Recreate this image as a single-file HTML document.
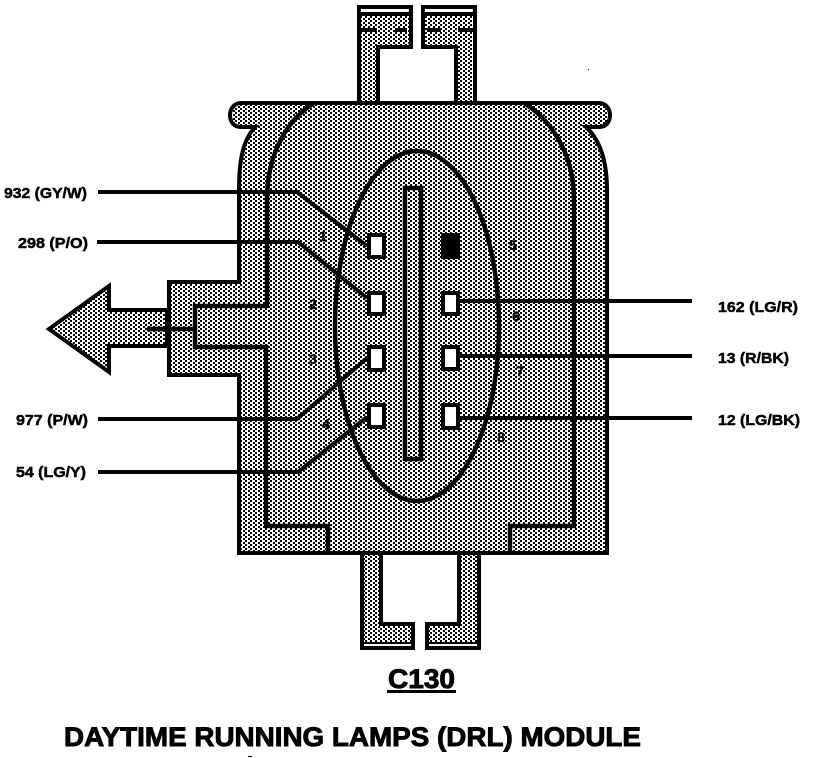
<!DOCTYPE html>
<html><head><meta charset="utf-8"><title>DRL Module C130</title>
<style>html,body{margin:0;padding:0;background:#fff}svg{display:block}
text{font-family:"Liberation Sans",sans-serif;font-weight:bold;fill:#000;stroke:#000;stroke-width:.5}</style></head>
<body>
<svg width="816" height="758" viewBox="0 0 816 758" xmlns="http://www.w3.org/2000/svg">
<defs><pattern id="h" width="5" height="4" patternUnits="userSpaceOnUse">
<rect width="5" height="4" fill="#fff"/>
<rect x="0" y="0" width="2" height="2" fill="#000" shape-rendering="crispEdges"/>
<rect x="3" y="2" width="2" height="2" fill="#000" shape-rendering="crispEdges"/>
</pattern></defs>
<g fill="url(#h)" stroke="#000" stroke-width="4" stroke-linejoin="miter">
<!-- top tabs -->
<path d="M359 103V7H411V47H378V103Z"/>
<path d="M475 103V7H423V47H456V103Z"/>
<!-- bottom tabs -->
<path d="M362 553V648H413V624H381V553Z"/>
<path d="M479 553V648H427V624H459V553Z"/>
<!-- flange + body -->
<path d="M241 103H599C606 103 610 109 610 115C610 122 606 127 599 127H586C600 140 607 160 607 190V553H239V375H169V282H239V190C239 160 243 140 255 127H241C234 127 230 122 230 115C230 109 234 103 241 103Z"/>
<!-- arrow -->
<path d="M49 329L109 286V310H167V346H109V372Z"/>
</g>
<g fill="none" stroke="#000" stroke-width="4.5">
<path d="M314 103C290 118 267 150 267 200V306H195V347H266V526H328V553"/>
<path d="M524 103C548 118 574 150 574 200V526H510V553"/>
<ellipse cx="417" cy="326" rx="82" ry="175"/>
<rect x="405" y="188" width="16" height="271"/>
<path d="M147 329H195"/>
</g>
<g fill="none" stroke="#000" stroke-width="4">
<path d="M98 192H297L367 246"/>
<path d="M97 242H298L367 298"/>
<path d="M98 419H297L367 358"/>
<path d="M98 472H298L367 417"/>
<path d="M460 301H692"/>
<path d="M460 356H692"/>
<path d="M460 418H692"/>
</g>
<!-- dashes/stripes on tabs -->
<g shape-rendering="crispEdges">
<rect x="361" y="9" width="48" height="3.5" fill="#fff"/><rect x="361" y="12" width="48" height="4" fill="#000"/>
<rect x="425" y="9" width="48" height="3.5" fill="#fff"/><rect x="425" y="12" width="48" height="4" fill="#000"/>
<rect x="361" y="28" width="16" height="4" fill="#000"/><rect x="395" y="28" width="12" height="4" fill="#000"/>
<rect x="427" y="28" width="14" height="4" fill="#000"/><rect x="458" y="28" width="15" height="4" fill="#000"/>
<rect x="364" y="642" width="47" height="2" fill="#000"/><rect x="364" y="644" width="47" height="2" fill="#fff"/>
<rect x="429" y="642" width="48" height="2" fill="#000"/><rect x="429" y="644" width="48" height="2" fill="#fff"/>
<rect x="588" y="69" width="1" height="1" fill="#000"/><rect x="248" y="756" width="4" height="1" fill="#000"/>
</g>
<!-- pins -->
<g fill="#fff" stroke="#000" stroke-width="4">
<rect x="369" y="235" width="15" height="22"/>
<rect x="369" y="293" width="15" height="21"/>
<rect x="369" y="347" width="15" height="23"/>
<rect x="369" y="405" width="15" height="22"/>
<rect x="443" y="293" width="15" height="21"/>
<rect x="443" y="347" width="15" height="22"/>
<rect x="443" y="405" width="15" height="23"/>
<rect x="443" y="235" width="15" height="22" fill="#000"/>
</g>
<!-- pin numbers -->
<g font-size="14" text-anchor="middle" style="stroke-width:.8">
<text x="323" y="241">1</text><text x="313" y="309">2</text><text x="313" y="364">3</text><text x="326" y="429">4</text>
<text x="513" y="250">5</text><text x="516" y="321">6</text><text x="520" y="376">7</text><text x="501" y="442">8</text>
</g>
<!-- labels -->
<g font-size="15">
<text x="4" y="198" textLength="83" lengthAdjust="spacingAndGlyphs">932 (GY/W)</text>
<text x="18" y="248" textLength="70" lengthAdjust="spacingAndGlyphs">298 (P/O)</text>
<text x="16" y="425" textLength="72" lengthAdjust="spacingAndGlyphs">977 (P/W)</text>
<text x="16" y="477" textLength="70" lengthAdjust="spacingAndGlyphs">54 (LG/Y)</text>
<text x="718" y="312" textLength="80" lengthAdjust="spacingAndGlyphs">162 (LG/R)</text>
<text x="718" y="363" textLength="71" lengthAdjust="spacingAndGlyphs">13 (R/BK)</text>
<text x="718" y="425" textLength="82" lengthAdjust="spacingAndGlyphs">12 (LG/BK)</text>
</g>
<text x="388" y="688" font-size="27" textLength="67" lengthAdjust="spacingAndGlyphs" style="stroke-width:.9">C130</text>
<rect x="387" y="690" width="69" height="3" fill="#000"/>
<text x="64" y="746" font-size="27" textLength="577" lengthAdjust="spacingAndGlyphs" style="stroke-width:.9">DAYTIME RUNNING LAMPS (DRL) MODULE</text>
</svg>
</body></html>
